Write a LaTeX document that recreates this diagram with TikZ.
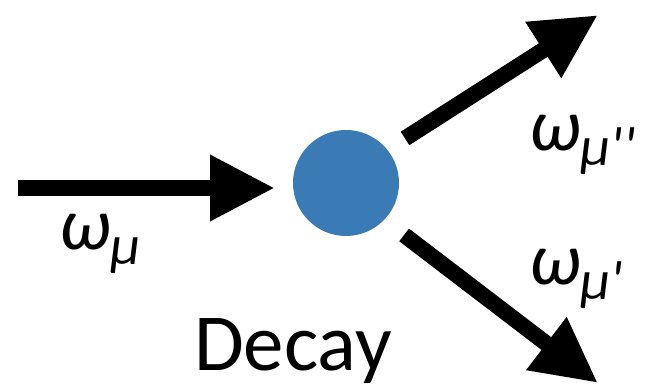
\documentclass[tikz,border=0pt]{standalone}
\usepackage{fontspec}
\usepackage{xcolor}
\usetikzlibrary{arrows.meta}
\newfontfamily\labelfont{Carlito}
\definecolor{dotblue}{HTML}{3A7BB5}

\newcommand{\freq}[1]{{\fontsize{74}{74}\selectfont\itshape ω}\raisebox{-15pt}{\fontsize{56}{56}\selectfont\itshape μ#1}}

\begin{document}
\begin{tikzpicture}[x=1pt, y=-1pt, line width=16pt,
    >={Triangle[length=65pt 0 0, width=62pt 0 0]}, font=\labelfont]
  \useasboundingbox (0,0) rectangle (661,387);
  \node[circle, fill=dotblue, minimum size=106pt, inner sep=0pt] (dot) at (346,183) {};
  \coordinate (in) at (18,188);
  \coordinate (hi) at (598,15);
  \coordinate (lo) at (598,383);

  \draw[->, shorten >=10pt] (in) -- (dot.west |- in);
  \draw[->, shorten <=13pt] (dot.38) -- (hi);
  \draw[->, shorten <=17pt] (dot.-43) -- (lo);

  \node[anchor=base west, inner sep=0pt] (win) at (51,250) {\freq{}};
  \node[anchor=base west, inner sep=0pt] (whi) at (521,151) {\freq{''}};
  \node[anchor=base west, inner sep=0pt] (wlo) at (521,284) {\freq{'}};
  \node[anchor=base west, inner sep=0pt, font=\labelfont\fontsize{81}{81}\selectfont] (name) at (186,370) {Decay};
\end{tikzpicture}
\end{document}
